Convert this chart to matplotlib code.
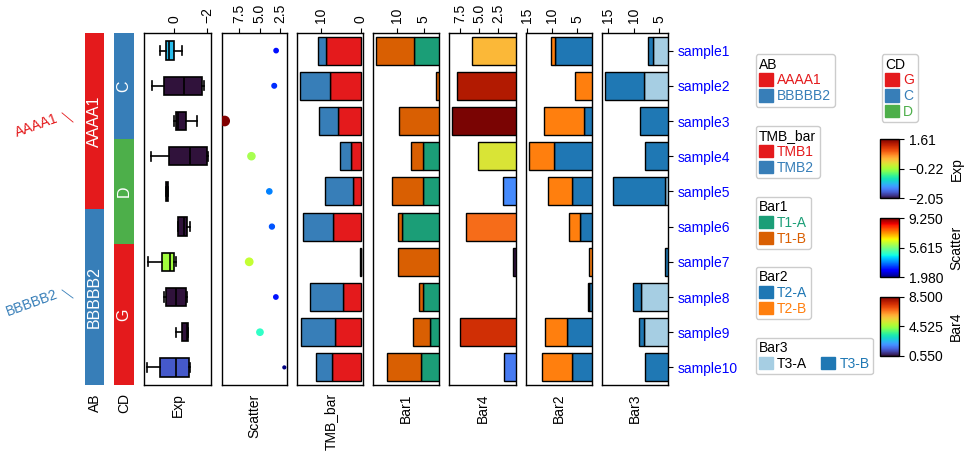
import numpy as np
import matplotlib
matplotlib.use('Agg')
import matplotlib.pyplot as plt
from matplotlib.patches import Patch
from matplotlib.transforms import blended_transform_factory
from matplotlib.colors import Normalize

plt.rcParams['font.family'] = ['Liberation Sans', 'DejaVu Sans']
plt.rcParams['font.size'] = 10

samples = ['sample1', 'sample2', 'sample3', 'sample4', 'sample5',
           'sample6', 'sample7', 'sample8', 'sample9', 'sample10']
ab = ['AAAA1'] * 5 + ['BBBBB2'] * 5
cd = ['C', 'C', 'C', 'D', 'D', 'D', 'G', 'G', 'G', 'G']
ab_colors = {'AAAA1': '#e41a1c', 'BBBBB2': '#377eb8'}
cd_colors = {'G': '#e41a1c', 'C': '#377eb8', 'D': '#4daf4a'}

# boxplot stats per sample (Exp)
exp_whishi = [0.82, 1.31, 0.00, 1.41, 0.48, -0.24, 1.58, 0.58, -0.10, 1.61]
exp_q3 = [0.50, 0.62, -0.10, 0.32, 0.46, -0.24, 0.73, 0.50, -0.48, 0.85]
exp_med = [0.30, -0.61, -0.24, -0.97, 0.42, -0.62, 0.22, -0.12, -0.75, -0.12]
exp_q1 = [0.00, -1.66, -0.69, -1.96, 0.38, -0.75, 0.00, -0.69, -0.81, -0.87]
exp_whislo = [-0.45, -1.78, -1.36, -2.04, 0.36, -0.97, -0.12, -0.79, -0.84, -0.97]
exp_color_vals = [-1.13, -2.05, -2.05, -2.05, -2.05, -2.05, -0.22, -2.05, -2.05, -1.68]
exp_range = (-2.05, 1.61)

scatter_vals = [2.98, 3.21, 9.25, 5.99, 3.81, 3.49, 6.26, 3.01, 4.95, 1.98]
scatter_range = (1.98, 9.25)

tmb1 = [8.75, 7.6, 5.75, 2.5, 1.85, 6.85, 0.05, 4.35, 6.35, 7.1]
tmb2 = [1.85, 7.5, 4.6, 2.6, 7.0, 7.5, 0.05, 8.25, 8.5, 4.0]

t1a = [6.8, 1.2, 1.5, 5.1, 5.2, 9.05, 1.8, 5.15, 3.8, 5.6]
t1b = [7.2, 1.4, 8.25, 2.3, 5.75, 0.85, 8.1, 0.7, 3.3, 6.4]

bar4 = [5.87, 7.92, 8.5, 5.18, 1.92, 6.7, 0.55, np.nan, 7.53, 1.74]
bar4_range = (0.55, 8.5)

t2a = [9.34, 1.5, 3.62, 9.54, 6.06, 4.49, 1.6, 2.77, 7.05, 6.06]
t2b = [0.86, 3.97, 7.88, 4.93, 4.74, 2.09, 1.03, 0.13, 4.35, 5.84]

t3a = [6.3, 8.06, 2.0, 1.5, 3.94, np.nan, 2.5, 8.53, 8.0, 2.2]
t3b = [0.97, 7.44, 6.65, 6.25, 10.0, np.nan, 1.32, 1.49, 0.92, 5.66]

W, H = 964, 453
fig = plt.figure(figsize=(W / 100, H / 100), dpi=100)
y = np.arange(len(samples))
top_px, bot_px = 33, 385


def add_ax(x0, x1):
    return fig.add_axes([x0 / W, 1 - bot_px / H, (x1 - x0) / W, (bot_px - top_px) / H])


def setup(ax, label, ticks=None):
    ax.set_ylim(len(samples) - 0.5, -0.5)
    ax.set_yticks([])
    ax.xaxis.tick_top()
    ax.xaxis.set_label_position('bottom')
    ax.set_xlabel(label, rotation=90, labelpad=6)
    if ticks is not None:
        ax.set_xticks(ticks)
        ax.tick_params(axis='x', labelrotation=90, labelsize=10)
    for s in ax.spines.values():
        s.set_linewidth(1.0)


def inv_lim(ax, lo, hi):
    pad = 0.05 * (hi - lo)
    ax.set_xlim(hi + pad, lo - pad)


def group_runs(vals):
    runs, start = [], 0
    for i in range(1, len(vals) + 1):
        if i == len(vals) or vals[i] != vals[start]:
            runs.append((vals[start], start, i - 1))
            start = i
    return runs


# categorical strips
for x0, x1, vals, cmap, name in [(85, 104, ab, ab_colors, 'AB'), (114, 134, cd, cd_colors, 'CD')]:
    ax = add_ax(x0, x1)
    ax.barh(y, 1, height=1.0, color=[cmap[v] for v in vals], linewidth=0)
    ax.set_xlim(0, 1)
    setup(ax, name)
    ax.set_xticks([])
    for s in ax.spines.values():
        s.set_visible(False)
    for v, a, b in group_runs(vals):
        ax.text(0.5, (a + b) / 2, v, rotation=90, ha='center', va='center',
                color='white', fontsize=11.5)
    if name == 'AB':
        ax_ab = ax

# side labels on AB groups
tr = blended_transform_factory(ax_ab.transAxes, ax_ab.transData)
for txt, tx, ty, lx, ly in [('AAAA1', -2.55, 2.14, [-1.21, -0.63], [1.77, 2.03]),
                            ('BBBBB2', -2.8, 7.17, [-1.21, -0.63], [6.80, 7.03])]:
    c = ab_colors[txt]
    ax_ab.text(tx, ty, txt, transform=tr, rotation=20, ha='center', va='center',
               color=c, fontsize=10)
    ax_ab.plot(lx, ly, transform=tr, color=c, lw=0.6, clip_on=False)

# Exp boxplot
ax = add_ax(144.3, 211)
stats = [dict(whislo=a, q1=b, med=c, q3=d, whishi=e)
         for a, b, c, d, e in zip(exp_whislo, exp_q1, exp_med, exp_q3, exp_whishi)]
bp = ax.bxp(stats, positions=y, orientation='horizontal', widths=0.52, patch_artist=True,
            showfliers=False, medianprops=dict(color='black', lw=1.2),
            boxprops=dict(edgecolor='black', lw=1.2), whiskerprops=dict(lw=1.2),
            capprops=dict(lw=1.2), manage_ticks=False)
exp_norm = Normalize(*exp_range)
for patch, v in zip(bp['boxes'], exp_color_vals):
    patch.set_facecolor(plt.cm.turbo(exp_norm(v)))
inv_lim(ax, min(exp_whislo), max(exp_whishi))
setup(ax, 'Exp', [0, -2])

# Scatter
ax = add_ax(221.7, 287.3)
sv = np.array(scatter_vals)
ax.scatter(sv, y, c=sv, cmap='jet', vmin=scatter_range[0], vmax=scatter_range[1],
           s=4 + 5.6 * (sv - sv.min()), zorder=3)
inv_lim(ax, sv.min(), sv.max())
setup(ax, 'Scatter', [7.5, 5.0, 2.5])


def stacked(ax, a, b, ca, cb, label, ticks):
    a = np.array(a)
    b = np.array(b)
    ax.barh(y, a, height=0.8, color=ca, edgecolor='black', lw=1.0)
    ax.barh(y, b, left=a, height=0.8, color=cb, edgecolor='black', lw=1.0)
    tot = a + b
    inv_lim(ax, np.nanmin(tot), np.nanmax(tot))
    setup(ax, label, ticks)
    return ax


stacked(add_ax(297.3, 363.3), tmb1, tmb2, '#e41a1c', '#377eb8', 'TMB_bar', [10, 0])
stacked(add_ax(373.3, 439.3), t1a, t1b, '#1b9e77', '#d95f02', 'Bar1', [10, 5])

# Bar4 (single, colored by value)
ax = add_ax(449.3, 516.3)
b4 = np.array(bar4)
b4_norm = Normalize(*bar4_range)
ax.barh(y, np.nan_to_num(b4), height=0.8, color=plt.cm.turbo(b4_norm(np.nan_to_num(b4))),
        edgecolor=['black' if not np.isnan(v) else 'none' for v in b4], lw=1.0)
inv_lim(ax, np.nanmin(b4), np.nanmax(b4))
setup(ax, 'Bar4', [7.5, 5.0, 2.5])

stacked(add_ax(526.3, 592.3), t2a, t2b, '#1f77b4', '#ff7f0e', 'Bar2', [15, 10, 5])
ax = stacked(add_ax(602.3, 668.3), t3a, t3b, '#a6cee3', '#1f78b4', 'Bar3', [15, 10, 5])
ax.yaxis.tick_right()
ax.set_yticks(y)
ax.set_yticklabels(samples, color='blue', fontsize=10)

# legends
legends = [
    ('AB', ['AAAA1', 'BBBBB2'], ['#e41a1c', '#377eb8'], None, 755.7, 54.3, 1),
    ('CD', ['G', 'C', 'D'], ['#e41a1c', '#377eb8', '#4daf4a'], None, 881.7, 54.3, 1),
    ('TMB_bar', ['TMB1', 'TMB2'], ['#e41a1c', '#377eb8'], None, 755.7, 125.7, 1),
    ('Bar1', ['T1-A', 'T1-B'], ['#1b9e77', '#d95f02'], None, 755.7, 196.7, 1),
    ('Bar2', ['T2-A', 'T2-B'], ['#1f77b4', '#ff7f0e'], None, 755.7, 266.7, 1),
    ('Bar3', ['T3-A', 'T3-B'], ['#a6cee3', '#1f78b4'], ['black', '#1f78b4'], 755.7, 337.7, 2),
]
for title, labels, colors, tcolors, lx, ly, ncol in legends:
    handles = [Patch(facecolor=c, edgecolor=c, label=l) for l, c in zip(labels, colors)]
    fig.legend(handles=handles, title=title, loc='upper left',
               bbox_to_anchor=(lx / W, 1 - ly / H), bbox_transform=fig.transFigure,
               borderaxespad=0, fontsize=10, title_fontsize=10, ncol=ncol,
               handlelength=1.0, handleheight=1.0, labelspacing=0.12, handletextpad=0.3,
               borderpad=0.25, columnspacing=1.0, alignment='left',
               labelcolor=tcolors if tcolors else colors, framealpha=1)

# colorbars
for label, cmap, rng, fmt, cy in [('Exp', 'turbo', exp_range, '%.2f', 139.3),
                                  ('Scatter', 'jet', scatter_range, '%.3f', 218.3),
                                  ('Bar4', 'turbo', bar4_range, '%.3f', 296.7)]:
    cax = fig.add_axes([880 / W, 1 - (cy + 59) / H, 19 / W, 59 / H])
    sm = plt.cm.ScalarMappable(norm=Normalize(*rng), cmap=cmap)
    cb = fig.colorbar(sm, cax=cax)
    ticks = [rng[0], (rng[0] + rng[1]) / 2, rng[1]]
    cb.set_ticks(ticks)
    cb.set_ticklabels([(fmt % t).replace('-', '\u2212') for t in ticks])
    cb.ax.tick_params(labelsize=10)
    cb.set_label(label, fontsize=10)
    cb.outline.set_linewidth(1.0)

fig.savefig('out.png', dpi=100)
